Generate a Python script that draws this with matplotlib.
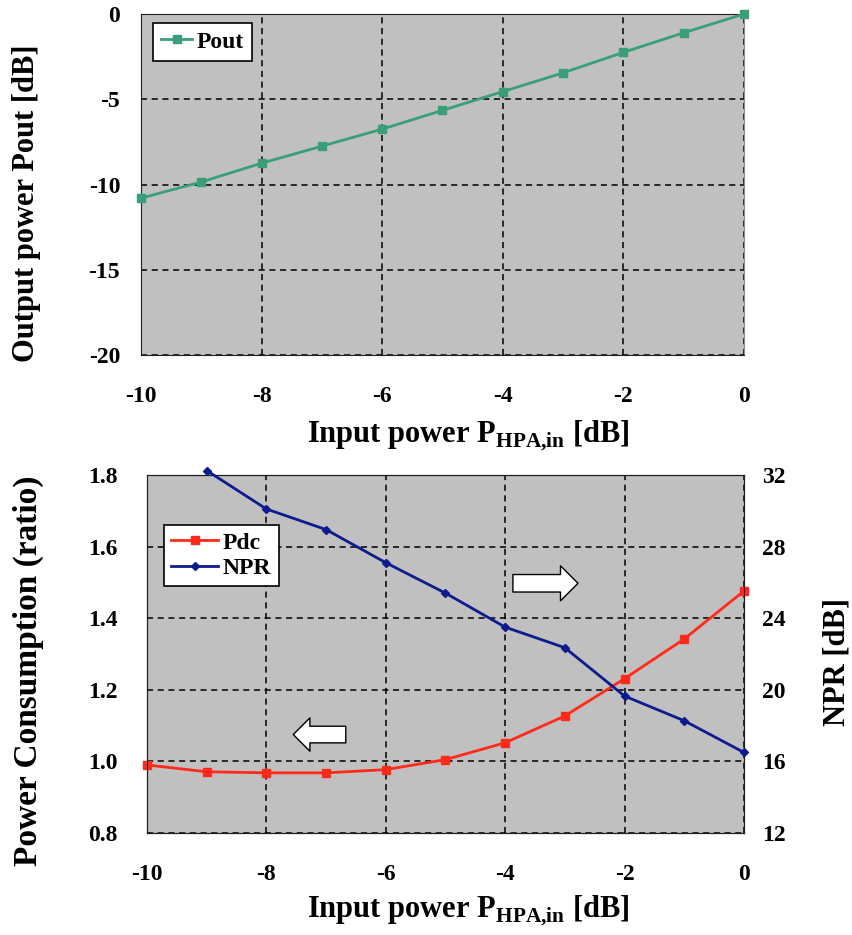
import numpy as np
import matplotlib
matplotlib.use("Agg")
import matplotlib.pyplot as plt

plt.rcParams['font.family'] = ['Liberation Serif', 'DejaVu Serif']
plt.rcParams['font.weight'] = 'bold'
plt.rcParams['axes.unicode_minus'] = False
plt.rcParams['mathtext.fontset'] = 'custom'
plt.rcParams['mathtext.rm'] = 'Liberation Serif:bold'
plt.rcParams['mathtext.bf'] = 'Liberation Serif:bold'

# data
x_in = [-10, -9, -8, -7, -6, -5, -4, -3, -2, -1, 0]
pout = [-10.8, -9.85, -8.75, -7.75, -6.75, -5.65, -4.55, -3.45, -2.25, -1.1, 0.0]
pdc = [0.99, 0.971, 0.968, 0.968, 0.977, 1.005, 1.052, 1.127, 1.231, 1.342, 1.476]
x_npr = [-9, -8, -7, -6, -5, -4, -3, -2, -1, 0]
npr = [32.25, 30.1, 28.95, 27.1, 25.4, 23.5, 22.35, 19.65, 18.27, 16.5]

x_ticks = [-10, -8, -6, -4, -2, 0]
pout_ticks = [-20, -15, -10, -5, 0]
pdc_ticks = [0.8, 1.0, 1.2, 1.4, 1.6, 1.8]
npr_ticks = [12, 16, 20, 24, 28, 32]

bg = '#c0c0c0'
green = '#3a9f78'
red = '#ff2a1a'
navy = '#0c1c8c'
tick_fs = 17
lab_fs = 22
xlabel = r"Input power P$_{\mathrm{HPA{,}in}}$ [dB]"

fig = plt.figure(figsize=(8.52, 9.35), dpi=100)

# ---- top panel
ax1 = fig.add_axes([0.1655, 0.6203, 0.7077, 0.3647])
ax1.set_facecolor(bg)
ax1.plot(x_in, pout, color=green, lw=2, marker='s', ms=6, label='Pout', clip_on=False, zorder=3)
ax1.set_xlim(-10, 0)
ax1.set_ylim(-20, 0)
ax1.set_xticks(x_ticks)
ax1.set_yticks(pout_ticks)
ax1.grid(True, color='black', ls=(0, (4, 3)), lw=1.1)
ax1.tick_params(axis='x', length=0, pad=22, labelsize=tick_fs)
ax1.tick_params(axis='y', length=0, pad=15, labelsize=tick_fs)
for s in ['left', 'top', 'bottom']:
    ax1.spines[s].set_color('#202020')
ax1.spines['right'].set_color('#909090')
leg = ax1.legend(loc='upper left', bbox_to_anchor=(0.02, 0.974), borderaxespad=0,
                 fancybox=False, edgecolor='black', framealpha=1, fontsize=17,
                 handlelength=1.3, handletextpad=0.2, borderpad=0.35)
leg.get_frame().set_linewidth(1.2)

fig.text(0.55, 1 - 436 / 935, xlabel, ha='center', va='center', fontsize=lab_fs)
fig.text(27 / 852, 1 - 203 / 935, "Output power Pout [dB]", rotation=90,
         ha='center', va='center', fontsize=lab_fs)

# ---- bottom panel
ax2 = fig.add_axes([0.1725, 0.1091, 0.7007, 0.3829])
ax2.set_facecolor(bg)
ax3 = ax2.twinx()
l1, = ax2.plot(x_in, pdc, color=red, lw=2, marker='s', ms=6, label='Pdc', clip_on=False, zorder=3)
l2, = ax3.plot(x_npr, npr, color=navy, lw=2, marker='D', ms=4, label='NPR', clip_on=False, zorder=3)
ax2.set_xlim(-10, 0)
ax2.set_ylim(0.8, 1.8)
ax3.set_ylim(12, 32)
ax2.set_xticks(x_ticks)
ax2.set_yticks(pdc_ticks)
ax2.set_yticklabels([f"{v:.1f}" for v in pdc_ticks])
ax3.set_yticks(npr_ticks)
ax2.grid(True, color='black', ls=(0, (4, 3)), lw=1.1)
ax2.tick_params(axis='x', length=0, pad=22, labelsize=tick_fs)
ax2.tick_params(axis='y', length=0, pad=21, labelsize=tick_fs)
ax3.tick_params(axis='y', length=0, pad=13, labelsize=tick_fs)
for s in ax3.spines.values():
    s.set_color('#202020')

leg2 = ax3.legend([l1, l2], ['Pdc', 'NPR'], loc='upper left', bbox_to_anchor=(0.0285, 0.86),
                  borderaxespad=0, fancybox=False, edgecolor='black', framealpha=1,
                  fontsize=17, handlelength=2.0, handletextpad=0.2, borderpad=0.3,
                  labelspacing=0.15)
leg2.get_frame().set_linewidth(1.2)

# hollow block arrows pointing to the matching axis
ax2.annotate('', xy=(-7.55, 1.075), xytext=(-6.67, 1.075),
             arrowprops=dict(arrowstyle='simple,head_length=0.6,head_width=1.2,tail_width=0.6',
                             fc='white', ec='black', lw=1, mutation_scale=20, shrinkA=0, shrinkB=0))
ax3.annotate('', xy=(-2.78, 25.95), xytext=(-3.87, 25.95),
             arrowprops=dict(arrowstyle='simple,head_length=0.6,head_width=1.2,tail_width=0.6',
                             fc='white', ec='black', lw=1, mutation_scale=21, shrinkA=0, shrinkB=0))

fig.text(0.55, 1 - 911 / 935, xlabel, ha='center', va='center', fontsize=lab_fs)
fig.text(28 / 852, 1 - 671 / 935, "Power Consumption (ratio)", rotation=90,
         ha='center', va='center', fontsize=24)
fig.text(837 / 852, 1 - 662 / 935, "NPR [dB]", rotation=90,
         ha='center', va='center', fontsize=lab_fs)

fig.savefig('out.png', dpi=100)
